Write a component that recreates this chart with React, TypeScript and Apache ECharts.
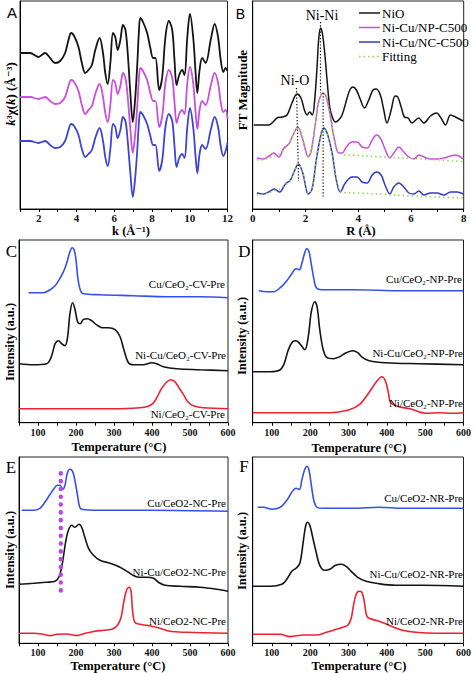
import React, { useEffect, useRef } from "react";
import * as echarts from "echarts";

const SERIF = '"Liberation Serif", "Times New Roman", "DejaVu Serif", serif';
const SANS = '"Liberation Sans", Arial, "DejaVu Sans", sans-serif';

// ---------- Panel A : k3 chi(k) ----------
const kA = [1.0, 1.53, 1.98, 2.15, 2.33, 2.6, 2.86, 3.13, 3.39, 3.57, 3.71, 3.87, 4.1, 4.28, 4.46, 4.63, 4.81, 4.99, 5.22, 5.4, 5.52, 5.65, 5.79, 5.93, 6.05, 6.18, 6.32, 6.46, 6.59, 6.71, 6.85, 6.98, 7.1, 7.21, 7.3, 7.38, 7.52, 7.74, 7.91, 8.06, 8.18, 8.38, 8.54, 8.71, 8.89, 9.07, 9.19, 9.3, 9.44, 9.6, 9.72, 9.87, 10.01, 10.18, 10.31, 10.4, 10.52, 10.66, 10.84, 11.11, 11.32, 11.5, 11.64, 11.78, 11.9, 12.0];
const aNiO = [156, 156, 152, 154, 156, 151, 146, 148, 156, 169, 176, 173, 162, 146, 136, 139, 144, 159, 171, 156, 136, 125, 146, 176, 172, 159, 169, 184, 179, 156, 116, 87, 109, 142, 176, 191, 187, 176, 161, 151, 151, 119, 132, 172, 188, 179, 149, 124, 134, 139, 134, 172, 195, 172, 136, 116, 139, 151, 146, 169, 185, 172, 149, 137, 141, 138];
const aNP = [112, 112, 110, 111, 112, 108, 105, 106, 112, 123, 129, 127, 118, 104, 95, 99, 103, 115, 125, 112, 96, 87, 104, 129, 126, 115, 123, 136, 131, 112, 80, 56, 74, 101, 129, 141, 138, 129, 116, 108, 108, 82, 93, 126, 139, 131, 107, 86, 95, 99, 95, 126, 142, 126, 96, 80, 99, 108, 104, 123, 136, 126, 107, 97, 99, 90];
const aNC = [68, 68, 66, 67, 68, 64, 61, 62, 68, 79, 85, 83, 74, 60, 52, 55, 59, 71, 81, 68, 52, 43, 60, 85, 82, 71, 79, 92, 88, 68, 36, 12, 30, 57, 85, 97, 94, 85, 73, 64, 64, 38, 49, 82, 95, 88, 63, 42, 51, 55, 51, 82, 101, 82, 52, 36, 55, 64, 60, 79, 92, 82, 63, 53, 58, 66];

// ---------- Panel B : FT magnitude ----------
const bNiO = [[0.04, 84], [0.61, 84], [0.77, 87], [0.92, 91], [1.11, 92], [1.3, 94], [1.49, 106], [1.68, 115], [1.83, 111], [1.96, 99], [2.06, 94], [2.16, 97], [2.26, 94], [2.35, 109], [2.44, 142], [2.5, 169], [2.57, 181], [2.64, 176], [2.73, 156], [2.82, 129], [2.92, 102], [3.03, 91], [3.14, 87], [3.26, 89], [3.39, 94], [3.58, 111], [3.7, 120], [3.81, 122], [3.93, 119], [4.06, 111], [4.24, 101], [4.4, 109], [4.56, 119], [4.69, 120], [4.84, 114], [4.97, 99], [5.09, 86], [5.25, 99], [5.4, 113], [5.5, 112], [5.63, 102], [5.75, 92], [5.89, 91], [6.04, 86], [6.29, 91], [6.49, 86], [6.74, 93], [6.97, 96], [7.14, 91], [7.31, 84], [7.5, 94], [7.69, 92], [7.98, 88]];
const bNP = [[0.16, 51], [0.42, 50], [0.67, 54], [0.8, 56], [0.99, 52], [1.18, 61], [1.37, 65], [1.53, 74], [1.71, 82], [1.87, 72], [2.0, 59], [2.1, 52], [2.21, 57], [2.38, 86], [2.5, 107], [2.67, 116], [2.79, 112], [2.95, 92], [3.1, 69], [3.26, 56], [3.39, 56], [3.55, 62], [3.77, 67], [3.96, 67], [4.15, 62], [4.34, 61], [4.53, 69], [4.69, 74], [4.84, 71], [5.03, 59], [5.2, 51], [5.35, 56], [5.54, 62], [5.73, 57], [5.92, 52], [6.11, 50], [6.3, 54], [6.49, 52], [6.74, 50], [6.99, 50], [7.24, 51], [7.5, 53], [7.69, 54], [7.98, 50]];
const bNC = [[0.16, 16], [0.42, 15], [0.67, 18], [0.82, 20], [1.02, 17], [1.24, 25], [1.43, 29], [1.58, 38], [1.73, 45], [1.9, 36], [2.02, 21], [2.1, 15], [2.25, 20], [2.41, 49], [2.57, 72], [2.69, 81], [2.82, 76], [3.01, 56], [3.17, 29], [3.32, 17], [3.51, 26], [3.77, 32], [3.96, 32], [4.15, 27], [4.34, 26], [4.53, 34], [4.69, 37], [4.87, 34], [5.03, 23], [5.2, 15], [5.35, 22], [5.54, 26], [5.73, 22], [5.92, 16], [6.11, 15], [6.3, 18], [6.49, 14], [6.74, 16], [6.99, 16], [7.24, 14], [7.5, 17], [7.75, 17], [7.98, 15]];
const bFitNP = [[0.16, 49], [0.5, 50], [0.8, 53], [1.0, 55], [1.18, 59], [1.37, 65], [1.53, 74], [1.71, 81.5], [1.87, 72.5], [2.0, 59.5], [2.1, 53], [2.21, 57.5], [2.38, 85.5], [2.5, 107], [2.67, 116], [2.79, 112], [2.95, 92.5], [3.1, 69.5], [3.26, 57], [3.4, 54.5], [4.0, 53.5], [5.0, 52], [6.0, 50.5], [7.0, 49], [7.98, 47.5]];
const bFitNC = [[0.16, 14], [0.5, 15.5], [0.8, 18], [1.0, 19.5], [1.24, 24.5], [1.43, 29], [1.58, 38], [1.73, 45], [1.9, 36], [2.02, 21], [2.1, 15.5], [2.25, 20], [2.41, 49], [2.57, 72], [2.69, 80.5], [2.82, 76], [3.01, 56], [3.17, 29.5], [3.32, 18.5], [3.5, 16.5], [4.0, 16], [5.0, 14.5], [6.0, 13], [7.0, 12], [7.98, 11]];
const bLineNiO = [[1.66, 121], [1.74, 28]];
const bLineNiNi1 = [[2.57, 187], [2.57, 116]];
const bLineNiNi2 = [[2.67, 116], [2.67, 11]];

// ---------- Panel C : CV ----------
const cCu = [[75, 130], [114, 130], [132, 133], [145, 137], [156, 143], [167, 151], [175, 159], [184, 171], [190, 175], [195, 173], [200, 163], [205, 144], [211, 133], [219, 129], [263, 128], [351, 127], [439, 126], [526, 126], [600, 125]];
const cNiCu = [[50, 59], [88, 58], [123, 59], [132, 63], [139, 71], [145, 79], [154, 82], [162, 79], [171, 77], [178, 86], [184, 109], [191, 120], [197, 114], [204, 101], [211, 99], [219, 103], [230, 104], [241, 102], [254, 98], [268, 95], [285, 95], [303, 93], [316, 86], [326, 73], [338, 60], [351, 58], [377, 58], [399, 60], [412, 59], [430, 56], [465, 54], [526, 53], [600, 52]];
const cNi = [[50, 14], [175, 14], [307, 14], [368, 15], [386, 16], [402, 19], [414, 26], [425, 34], [437, 40], [449, 43], [460, 41], [471, 35], [483, 28], [494, 21], [509, 17], [535, 15], [600, 14]];

// ---------- Panel D : NP ----------
const dCu = [[66, 132], [87, 131], [104, 131], [122, 135], [139, 142], [152, 149], [163, 154], [172, 153], [178, 159], [185, 169], [191, 174], [197, 171], [203, 158], [210, 143], [216, 135], [229, 133], [311, 133], [441, 132], [599, 132]];
const dNiCu = [[50, 51], [96, 51], [122, 53], [132, 59], [143, 73], [154, 81], [163, 82], [173, 79], [186, 73], [195, 86], [203, 111], [212, 121], [218, 116], [225, 93], [234, 73], [244, 65], [260, 64], [277, 66], [294, 70], [311, 72], [324, 70], [337, 65], [354, 62], [397, 60], [484, 59], [600, 58]];
const dNi = [[50, 10], [172, 10], [250, 10], [302, 13], [328, 18], [353, 30], [371, 40], [387, 46], [397, 41], [405, 28], [410, 20], [431, 16], [460, 14], [483, 11], [501, 9.5], [534, 10], [570, 9.5], [600, 10]];

// ---------- Panel E : NC ----------
const eCu = [[57, 133], [88, 133], [105, 135], [118, 141], [132, 149], [143, 155], [151, 158], [158, 158], [165, 154], [171, 158], [177, 170], [184, 174], [191, 172], [197, 163], [204, 148], [209, 137], [215, 134], [263, 133], [395, 133], [600, 132]];
const eNiCu = [[50, 59], [88, 60], [123, 61], [145, 62], [156, 67], [165, 82], [173, 102], [180, 113], [189, 118], [197, 116], [208, 119], [215, 116], [224, 105], [233, 95], [246, 88], [263, 83], [290, 80], [316, 76], [338, 71], [355, 67], [368, 66], [386, 66], [404, 65], [417, 61], [434, 58], [474, 57], [526, 56], [570, 54], [600, 52]];
const eNi = [[50, 10], [88, 10], [114, 9], [132, 7.7], [149, 9], [175, 9.3], [202, 7.7], [224, 10], [250, 12], [272, 13], [294, 14], [307, 17], [318, 25], [326, 42], [333, 53], [340, 56], [345, 52], [349, 32], [355, 21], [368, 19], [386, 18], [412, 16], [447, 12], [491, 11], [600, 10]];
const eMark = [[160, 170], [160, 46]];

// ---------- Panel F : NR ----------
const fCu = [[63, 136], [78, 136], [100, 134], [122, 136], [139, 143], [152, 151], [163, 155], [172, 154], [178, 163], [185, 173], [191, 177], [197, 173], [203, 158], [210, 142], [218, 136], [234, 135], [311, 135], [380, 136], [441, 135], [600, 135]];
const fNiCu = [[50, 57], [96, 57], [126, 59], [139, 64], [152, 72], [163, 75], [173, 80], [182, 102], [188, 117], [193, 121], [199, 118], [206, 107], [215, 92], [225, 78], [238, 73], [251, 74], [266, 78], [281, 79], [294, 77], [307, 72], [324, 66], [346, 62], [372, 60], [423, 58], [492, 58], [600, 57]];
const fNi = [[50, 9], [96, 9], [122, 9], [147, 6.7], [182, 8.3], [216, 8.3], [242, 11], [268, 14], [285, 16], [298, 18], [307, 25], [313, 38], [320, 49], [328, 52], [335, 51], [341, 42], [347, 28], [354, 25], [380, 22], [406, 18], [441, 13], [475, 11], [527, 10], [600, 10]];

const BLACK = "#141414";
const MAG = "#c94fdc";
const BLUE_A = "#3b45d0";
const BLUE = "#3550ec";
const RED = "#ec2233";
const GREEN = "#8fd84a";
const PURPLE = "#b64ae4";

export default function App() {
  const ref = useRef<HTMLDivElement>(null);
  useEffect(() => {
    const chart = echarts.init(ref.current!, undefined, { renderer: "svg" });

    const grids = [
      { left: 20, top: 1, width: 207.5, height: 208 },
      { left: 252.7, top: 1, width: 211, height: 208 },
      { left: 19, top: 240, width: 209, height: 182.7 },
      { left: 252.7, top: 240, width: 212.3, height: 182.7 },
      { left: 19, top: 457, width: 209, height: 186.3 },
      { left: 252.7, top: 457, width: 212.3, height: 186.3 },
    ].map((g) => ({ ...g, show: true, borderColor: "#222", borderWidth: 1, backgroundColor: "transparent" }));

    const xa = (gi: number, min: number, max: number, interval: number, step: number, labelMin: number, fontSize: number, margin: number) => ({
      type: "value",
      gridIndex: gi,
      min,
      max,
      interval,
      axisLine: { show: true, onZero: false, lineStyle: { color: "#000", width: 1 } },
      axisTick: { show: true, inside: false, length: 3, lineStyle: { color: "#000", width: 1 } },
      axisLabel: {
        formatter: (v: number) => (Math.abs(v % step) < 1e-6 && v >= labelMin ? String(v) : ""),
        fontFamily: SERIF,
        fontWeight: "bold",
        fontSize,
        color: "#111",
        margin,
      },
      splitLine: { show: false },
    });
    const ya = (gi: number, max: number) => ({
      type: "value",
      gridIndex: gi,
      min: 0,
      max,
      axisLine: { show: true, onZero: false, lineStyle: { color: "#000", width: 1 } },
      axisTick: { show: false },
      axisLabel: { show: false },
      splitLine: { show: false },
    });

    const xAxis = [
      xa(0, 1, 12, 1, 2, 2, 11, 3),
      xa(1, 0, 8, 1, 2, 0, 11, 3),
      xa(2, 50, 600, 50, 100, 100, 10, 5),
      xa(3, 50, 600, 50, 100, 100, 10, 5),
      xa(4, 50, 600, 50, 100, 100, 10, 4),
      xa(5, 50, 600, 50, 100, 100, 10, 4),
    ];
    const yAxis = [ya(0, 208), ya(1, 208), ya(2, 182.7), ya(3, 182.7), ya(4, 186.3), ya(5, 186.3)];

    const line = (gi: number, data: any[], color: string, width = 1.5, extra: any = {}) => ({
      type: "line",
      xAxisIndex: gi,
      yAxisIndex: gi,
      data,
      showSymbol: false,
      symbol: "none",
      smooth: extra.smooth !== undefined ? extra.smooth : 0.35,
      silent: true,
      z: extra.z !== undefined ? extra.z : 2,
      lineStyle: { color, width, ...(extra.lineStyle || {}) },
    });

    const pairs = (xs: number[], ys: number[]) => xs.map((x, i) => [x, ys[i]]);

    const series = [
      line(0, pairs(kA, aNiO), BLACK, 1.8),
      line(0, pairs(kA, aNP), MAG, 1.8),
      line(0, pairs(kA, aNC), BLUE_A, 1.8),

      line(1, bNiO, BLACK, 1.5),
      line(1, bNP, MAG, 1.5),
      line(1, bNC, "#3838c8", 1.5),
      line(1, bFitNP, GREEN, 1.5, { lineStyle: { type: [1.5, 3] }, z: 5 }),
      line(1, bFitNC, GREEN, 1.5, { lineStyle: { type: [1.5, 3] }, z: 5 }),
      line(1, bLineNiO, "#000", 1.2, { lineStyle: { type: [1.2, 2] }, smooth: false, z: 6 }),
      line(1, bLineNiNi1, "#000", 1.2, { lineStyle: { type: [1.2, 2] }, smooth: false, z: 6 }),
      line(1, bLineNiNi2, "#000", 1.2, { lineStyle: { type: [1.2, 2] }, smooth: false, z: 6 }),

      line(2, cCu, BLUE, 1.6),
      line(2, cNiCu, BLACK, 1.6),
      line(2, cNi, RED, 1.6),

      line(3, dCu, BLUE, 1.6),
      line(3, dNiCu, BLACK, 1.6),
      line(3, dNi, RED, 1.6),

      line(4, eCu, BLUE, 1.6),
      line(4, eNiCu, BLACK, 1.6),
      line(4, eNi, RED, 1.6),
      line(4, eMark, PURPLE, 4.5, { lineStyle: { type: [0.1, 7.7], cap: "round" }, smooth: false, z: 6 }),

      line(5, fCu, BLUE, 1.6),
      line(5, fNiCu, BLACK, 1.6),
      line(5, fNi, RED, 1.6),
    ];

    const txt = (x: number, y: number, text: string, font: string, align = "center", vAlign = "middle", rotation = 0, fill = "#000", rich?: any) => ({
      type: "text",
      x,
      y,
      rotation,
      z: 100,
      silent: true,
      style: { text, font, fill, align, verticalAlign: vAlign, textAlign: align, textVerticalAlign: vAlign, ...(rich ? { rich } : {}) },
    });
    const seg = (x1: number, y1: number, x2: number, y2: number, stroke: string, lineWidth: number, lineDash?: number[]) => ({
      type: "line",
      z: 100,
      silent: true,
      shape: { x1, y1, x2, y2 },
      style: { stroke, lineWidth, lineDash },
    });

    const TITLE = `bold 12.5px ${SERIF}`;
    const LBL = `11px ${SERIF}`;
    const LEG = `13px ${SERIF}`;
    const R90 = Math.PI / 2;

    const graphic = [
      // panel letters
      txt(12, 12.5, "A", `15px ${SANS}`),
      txt(240.5, 14, "B", `14px ${SANS}`),
      txt(11.5, 251.5, "C", `17px ${SERIF}`),
      txt(244.5, 251, "D", `17px ${SERIF}`),
      txt(11, 467.5, "E", `17px ${SERIF}`),
      txt(244, 466, "F", `17px ${SERIF}`),

      // axis titles
      txt(131, 231, "k (Å⁻¹)", `bold 12.5px ${SERIF}`),
      txt(361, 231, "R (Å)", `bold 12.5px ${SERIF}`),
      txt(119, 447, "Temperature (°C)", TITLE),
      txt(359, 448, "Temperature (°C)", TITLE),
      txt(118, 666, "Temperature (°C)", TITLE),
      txt(359, 665.5, "Temperature (°C)", TITLE),
      txt(10, 94, "{i|k}{b|³χ(}{i|k}{b|) (Å⁻³)}", `bold 13px ${SERIF}`, "center", "middle", R90, "#000", {
        i: { font: `italic bold 13px ${SERIF}`, fill: "#000" },
        b: { font: `bold 13px ${SERIF}`, fill: "#000" },
      }),
      txt(242, 90, "FT Magnitude", `bold 13px ${SERIF}`, "center", "middle", R90),
      txt(10, 342, "Intensity (a.u.)", TITLE, "center", "middle", R90),
      txt(242, 336, "Intensity (a.u.)", TITLE, "center", "middle", R90),
      txt(10, 550, "Intensity (a.u.)", TITLE, "center", "middle", R90),
      txt(242, 551, "Intensity (a.u.)", TITLE, "center", "middle", R90),

      // panel B legend & annotations
      seg(359, 13, 380, 13, BLACK, 1.5),
      seg(359, 27.5, 380, 27.5, MAG, 1.5),
      seg(359, 42, 380, 42, "#3838c8", 1.5),
      seg(359, 56.5, 380, 56.5, GREEN, 1.5, [1.5, 3]),
      txt(382, 13, "NiO", LEG, "left"),
      txt(382, 27.5, "Ni-Cu/NP-C500", LEG, "left"),
      txt(382, 42, "Ni-Cu/NC-C500", LEG, "left"),
      txt(382, 56.5, "Fitting", LEG, "left"),
      txt(322, 15, "Ni-Ni", `14px ${SERIF}`),
      txt(295, 80, "Ni-O", `14px ${SERIF}`),

      // curve labels
      txt(225, 284, "Cu/CeO₂-CV-Pre", LBL, "right"),
      txt(226, 355, "Ni-Cu/CeO₂-CV-Pre", LBL, "right"),
      txt(225, 414, "Ni/CeO₂-CV-Pre", LBL, "right"),
      txt(462, 279, "Cu/CeO₂-NP-Pre", LBL, "right"),
      txt(463, 353, "Ni-Cu/CeO₂-NP-Pre", LBL, "right"),
      txt(463, 403, "Ni/CeO₂-NP-Pre", LBL, "right"),
      txt(226, 503, "Cu/CeO2-NC-Pre", LBL, "right"),
      txt(226, 572, "Ni-Cu/CeO2-NC-Pre", LBL, "right"),
      txt(226, 621, "Ni/CeO2-NC-Pre", LBL, "right"),
      txt(463, 498, "Cu/CeO2-NR-Pre", LBL, "right"),
      txt(463, 574, "Ni-Cu/CeO2-NR-Pre", LBL, "right"),
      txt(463, 621, "Ni/CeO2-NR-Pre", LBL, "right"),
    ];

    chart.setOption({ animation: false, grid: grids, xAxis, yAxis, series, graphic });
    return () => chart.dispose();
  }, []);
  return <div ref={ref} style={{ position: "absolute", left: 0, top: 0, width: 474, height: 673, background: "#fff" }} />;
}
